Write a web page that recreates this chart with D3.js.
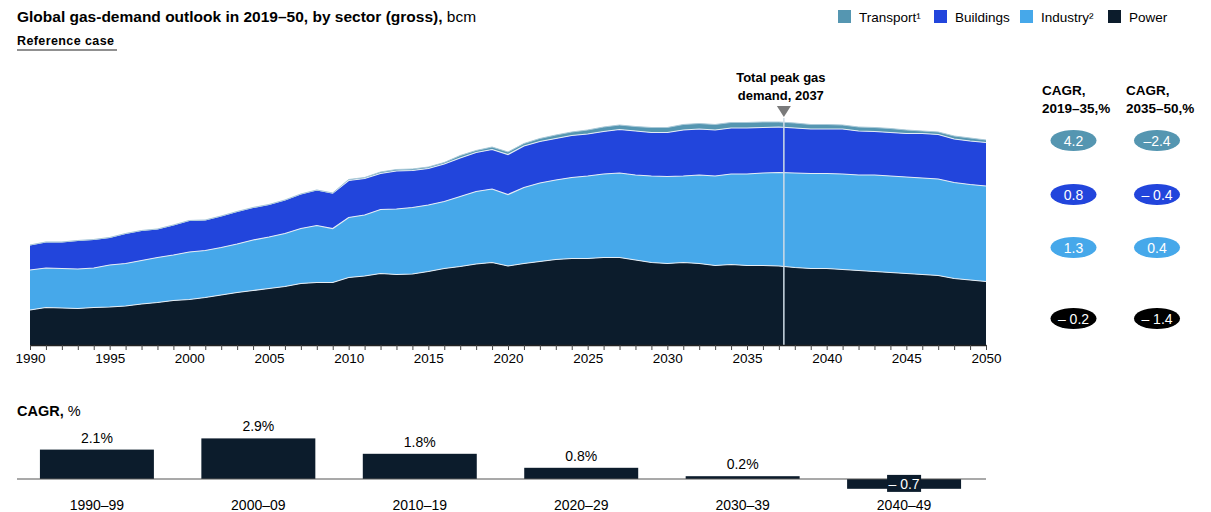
<!DOCTYPE html>
<html>
<head>
<meta charset="utf-8">
<script src="https://cdn.jsdelivr.net/npm/d3@7"></script>
<style>
    body { margin: 0; background: #fff; font-family: "Liberation Sans", Arial, sans-serif; }
    svg text { fill: #000; }
</style>
</head>
<body>
<div id="chart"></div>
<script>
// years on the x axis
const years = d3.range(1990, 2051);

// gas demand by sector, bcm
const power = [700, 750, 740, 730, 750, 760, 780, 820, 850, 890,
    910, 950, 1000, 1050, 1090, 1130, 1170, 1230, 1250, 1250,
    1350, 1380, 1430, 1410, 1420, 1470, 1530, 1570, 1620, 1650,
    1580, 1630, 1670, 1710, 1730, 1730, 1750, 1750, 1700, 1650,
    1630, 1650, 1630, 1590, 1610, 1590, 1590, 1580, 1550, 1530,
    1530, 1510, 1490, 1470, 1450, 1430, 1410, 1390, 1330, 1300, 1270];
const industry = [800, 790, 790, 790, 790, 840, 850, 870, 900, 910,
    950, 940, 950, 970, 1010, 1030, 1060, 1100, 1140, 1080,
    1200, 1220, 1280, 1310, 1330, 1330, 1340, 1400, 1450, 1470,
    1430, 1520, 1570, 1590, 1620, 1650, 1670, 1690, 1700, 1730,
    1740, 1730, 1770, 1790, 1810, 1830, 1850, 1870, 1890, 1900,
    1900, 1910, 1910, 1930, 1930, 1930, 1930, 1930, 1920, 1910, 1910];
const buildings = [500, 520, 530, 570, 570, 550, 600, 600, 570, 600,
    630, 610, 630, 650, 650, 650, 670, 690, 710, 710,
    740, 730, 720, 760, 740, 730, 750, 770, 780, 790,
    800, 830, 830, 830, 840, 840, 850, 870, 880, 870,
    880, 920, 920, 920, 920, 920, 910, 910, 900, 890,
    890, 900, 880, 870, 870, 870, 890, 890, 870, 870, 870];
const transport = [0, 0, 0, 0, 0, 0, 0, 0, 0, 0,
    0, 0, 0, 0, 0, 0, 0, 0, 0, 0,
    20, 20, 30, 30, 30, 30, 30, 50, 40, 50,
    50, 50, 60, 70, 70, 80, 90, 90, 90, 100,
    100, 110, 110, 110, 110, 110, 110, 100, 100, 90,
    90, 80, 80, 80, 80, 70, 50, 50, 60, 60, 50];

const peakYear = 2037;

// legend, in the order of the picture
const legendKeys = ["transport", "buildings", "industry", "power"];
const legendLabels = ["Transport¹", "Buildings", "Industry²", "Power"];

// CAGR pills on the right (transport, buildings, industry, power)
const cagrHeaders = [["CAGR,", "2019–35,%"], ["CAGR,", "2035–50,%"]];
const cagr2019to35 = ["4.2", "0.8", "1.3", "– 0.2"];
const cagr2035to50 = ["–2.4", "– 0.4", "0.4", "– 1.4"];

// decade CAGR bar chart
const decades = ["1990–99", "2000–09", "2010–19", "2020–29", "2030–39", "2040–49"];
const decadeCagr = [2.1, 2.9, 1.8, 0.8, 0.2, -0.7];

const colors = {
    transport: "#5596b1",
    buildings: "#2245dc",
    industry: "#46a8ea",
    power: "#0c1c2c"
};

const width = 1211, height = 512;

const svg = d3.select("#chart").append("svg")
    .attr("width", width)
    .attr("height", height);

// title
let title = svg.append("text")
    .attr("x", 17)
    .attr("y", 22)
    .style("font-size", "15.5px");
title.append("tspan").style("font-weight", "bold").text("Global gas-demand outlook in 2019–50, by sector (gross),");
title.append("tspan").text(" bcm");

svg.append("text")
    .attr("x", 17)
    .attr("y", 45)
    .style("font-size", "12.5px")
    .style("font-weight", "bold")
    .style("letter-spacing", "0.4px")
    .text("Reference case");
svg.append("line")
    .attr("x1", 17).attr("x2", 117)
    .attr("y1", 50).attr("y2", 50)
    .attr("stroke", "#222")
    .attr("stroke-width", 1.2);

// legend
const legendX = [838, 934, 1020, 1108];
let legend = svg.append("g").selectAll("g")
    .data(legendKeys)
    .enter().append("g")
    .attr("transform", (d, i) => "translate(" + legendX[i] + ",10)");
legend.append("rect")
    .attr("width", 13)
    .attr("height", 13)
    .attr("fill", d => colors[d]);
legend.append("text")
    .attr("x", 21)
    .attr("y", 12)
    .style("font-size", "13.5px")
    .text((d, i) => legendLabels[i]);

// ---- stacked area chart ----
const x = d3.scaleLinear()
    .domain([1990, 2050])
    .range([30, 986]);

const y = d3.scaleLinear()
    .domain([0, 5000])
    .range([345, 95]);

const table = years.map((yr, i) => ({
    year: yr,
    power: power[i],
    industry: industry[i],
    buildings: buildings[i],
    transport: transport[i]
}));

const stack = d3.stack().keys(["power", "industry", "buildings", "transport"]);
const layers = stack(table);

const area = d3.area()
    .x(d => x(d.data.year))
    .y0(d => y(d[0]))
    .y1(d => y(d[1]));

const topLine = d3.line()
    .x(d => x(d.data.year))
    .y(d => y(d[1]));

svg.append("g").selectAll("path")
    .data(layers)
    .enter().append("path")
    .attr("d", area)
    .attr("fill", d => colors[d.key]);

// thin light borders between the layers
svg.append("g").selectAll("path")
    .data(layers.filter(l => l.key != "transport"))
    .enter().append("path")
    .attr("d", topLine)
    .attr("fill", "none")
    .attr("stroke", "#e4ecf4")
    .attr("stroke-width", 1.2);

svg.append("path")
    .datum(layers[3])
    .attr("d", topLine)
    .attr("fill", "none")
    .attr("stroke", "#a9c9d8")
    .attr("stroke-width", 1);

// peak marker
const peakX = x(peakYear) + 5;
const peakTop = y(d3.max(table, d => d.power + d.industry + d.buildings + d.transport));
svg.append("line")
    .attr("x1", peakX).attr("x2", peakX)
    .attr("y1", peakTop - 4).attr("y2", y(0))
    .attr("stroke", "#cfdbe6")
    .attr("stroke-width", 1.5);
svg.append("path")
    .attr("d", "M" + (peakX - 7) + "," + (peakTop - 16) + "L" + (peakX + 7) + "," + (peakTop - 16) + "L" + peakX + "," + (peakTop - 5) + "Z")
    .attr("fill", "#7a7a7a");
let peakLabel = svg.append("text")
    .attr("x", peakX - 3)
    .attr("y", 82)
    .attr("text-anchor", "middle")
    .style("font-size", "13px")
    .style("font-weight", "bold");
peakLabel.append("tspan").attr("x", peakX - 3).text("Total peak gas");
peakLabel.append("tspan").attr("x", peakX - 3).attr("dy", 18).text("demand, " + peakYear);

// x axis
const xAxis = d3.axisBottom(x)
    .tickValues(years)
    .tickFormat(d => d % 5 == 0 ? d : "")
    .tickSize(5)
    .tickSizeOuter(0);

let xg = svg.append("g")
    .attr("transform", "translate(0," + y(0) + ")")
    .call(xAxis);
xg.select(".domain").attr("stroke", "#222").attr("stroke-width", 1.5);
xg.selectAll(".tick line").attr("stroke", "#444");
xg.selectAll(".tick text")
    .style("font-size", "13.5px")
    .style("font-family", "Liberation Sans, Arial, sans-serif")
    .attr("fill", "#000");

// ---- CAGR pills ----
const colX = [1042, 1126];
const pillX = [1073.5, 1157];
const pillY = [140.5, 194.5, 247.5, 318.5];

cagrHeaders.forEach((h, c) => {
    let t = svg.append("text")
        .attr("x", colX[c])
        .attr("y", 95)
        .style("font-size", "13.5px")
        .style("font-weight", "bold");
    t.append("tspan").attr("x", colX[c]).text(h[0]);
    t.append("tspan").attr("x", colX[c]).attr("dy", 18).text(h[1]);
});

[cagr2019to35, cagr2035to50].forEach((vals, c) => {
    let g = svg.append("g").selectAll("g")
        .data(vals)
        .enter().append("g")
        .attr("transform", (d, i) => "translate(" + pillX[c] + "," + pillY[i] + ")");
    g.append("ellipse")
        .attr("rx", 23)
        .attr("ry", 10.5)
        .attr("fill", (d, i) => i == 3 ? "#000" : colors[legendKeys[i]]);
    g.append("text")
        .attr("text-anchor", "middle")
        .attr("dy", "0.36em")
        .style("font-size", "14px")
        .style("fill", "#fff")
        .text(d => d);
});

// ---- decade CAGR bars ----
let cagrTitle = svg.append("text")
    .attr("x", 17)
    .attr("y", 416)
    .style("font-size", "14.5px");
cagrTitle.append("tspan").style("font-weight", "bold").text("CAGR,");
cagrTitle.append("tspan").text(" %");

const xb = d3.scaleBand()
    .domain(decades)
    .range([17, 984])
    .paddingInner(0.294)
    .paddingOuter(0.142);

const yb = d3.scaleLinear()
    .domain([-1, 3])
    .range([493, 437]);

const barData = decades.map((d, i) => ({decade: d, value: decadeCagr[i]}));

svg.append("g").selectAll("rect")
    .data(barData)
    .enter().append("rect")
    .attr("x", d => xb(d.decade))
    .attr("width", xb.bandwidth())
    .attr("y", d => yb(Math.max(0, d.value)))
    .attr("height", d => Math.max(1.5, Math.abs(yb(d.value) - yb(0))))
    .attr("fill", colors.power);

svg.append("line")
    .attr("x1", 17).attr("x2", 986)
    .attr("y1", yb(0)).attr("y2", yb(0))
    .attr("stroke", "#555")
    .attr("stroke-width", 1.2);

// value labels
svg.append("g").selectAll("text")
    .data(barData.filter(d => d.value >= 0))
    .enter().append("text")
    .attr("x", d => xb(d.decade) + xb.bandwidth() / 2)
    .attr("y", d => yb(d.value) - 7)
    .attr("text-anchor", "middle")
    .style("font-size", "14px")
    .text(d => d.value.toFixed(1) + "%");

barData.filter(d => d.value < 0).forEach(d => {
    let cx = xb(d.decade) + xb.bandwidth() / 2;
    let cy = (yb(0) + yb(d.value)) / 2;
    svg.append("rect")
        .attr("x", cx - 17)
        .attr("y", cy - 9)
        .attr("width", 34)
        .attr("height", 17)
        .attr("fill", colors.power);
    svg.append("text")
        .attr("x", cx)
        .attr("y", cy)
        .attr("dy", "0.36em")
        .attr("text-anchor", "middle")
        .style("font-size", "14px")
        .style("fill", "#fff")
        .text("– " + Math.abs(d.value).toFixed(1));
});

// decade labels
svg.append("g").selectAll("text")
    .data(decades)
    .enter().append("text")
    .attr("x", d => xb(d) + xb.bandwidth() / 2)
    .attr("y", 510)
    .attr("text-anchor", "middle")
    .style("font-size", "14px")
    .text(d => d);
</script>
</body>
</html>
